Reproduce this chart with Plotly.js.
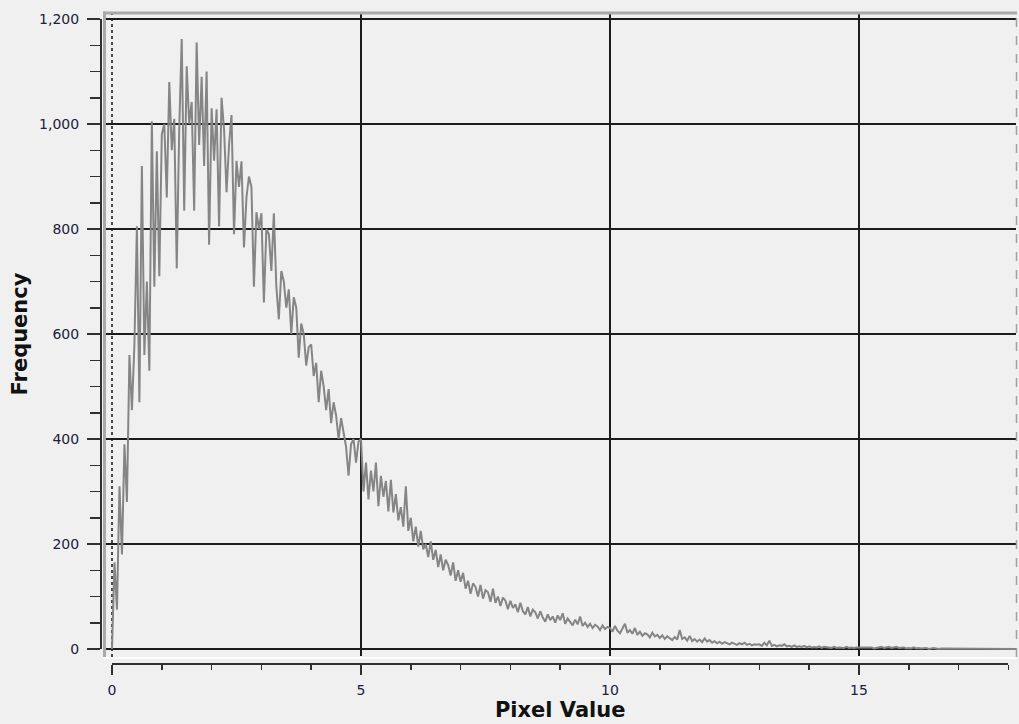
<!DOCTYPE html>
<html>
<head>
<meta charset="utf-8">
<script src="https://cdn.plot.ly/plotly-3.0.1.min.js"></script>
<style>
html,body{margin:0;padding:0;background:#f0f0f0;}
#chart{width:1019px;height:724px;}
</style>
</head>
<body>
<div id="chart"></div>
<script>
// ---- data ----
const binWidth = 0.05;               // pixel-value bin width
const frequency = [
  // 0.00 - 0.95
  0,165,75,310,180,390,280,560,455,580,805,470,920,560,700,530,1005,690,948,710,
  // 1.00 - 1.95
  980,1000,860,1080,950,1010,725,990,1162,835,1110,1000,1042,835,1155,960,1090,920,1100,770,
  // 2.00 - 2.95
  1030,930,1028,805,1050,990,870,960,1017,790,930,880,929,765,860,900,880,690,832,800,
  // 3.00 - 3.95
  830,660,800,790,720,830,690,628,720,700,650,685,600,670,650,555,620,600,540,575,
  // 4.00 - 4.95
  580,520,545,470,530,500,455,495,430,470,445,400,440,410,385,330,390,400,355,395,
  // 5.00 - 5.95
  400,300,355,285,340,300,355,272,330,290,320,262,322,260,295,245,270,233,310,225,
  // 6.00 - 6.95
  250,205,233,195,225,190,200,175,205,170,189,156,180,150,170,160,140,165,130,150,
  // 7.00 - 7.95
  128,145,115,130,105,125,118,100,122,96,112,108,90,115,88,100,82,98,92,76,
  // 8.00 - 8.95
  92,78,85,70,88,72,66,80,62,75,70,58,72,60,52,66,55,62,50,64,
  // 9.00 - 9.95
  55,68,48,58,52,45,56,47,62,44,50,42,48,40,46,43,36,45,38,42,
  // 10.00 - 10.95
  40,33,44,35,30,38,48,31,36,29,40,27,33,25,30,28,22,31,24,27,
  // 11.00 - 11.95
  21,26,19,24,20,17,23,18,36,19,22,16,25,15,19,14,18,13,20,14,
  // 12.00 - 12.95
  17,12,15,11,14,10,13,11,9,12,10,8,11,9,12,8,10,7,9,8,
  // 13.00 - 13.95
  9,6,12,7,16,6,8,5,7,6,9,5,6,4,7,4,5,4,6,3,
  // 14.00 - 14.95
  5,3,4,3,5,2,4,3,3,2,4,2,3,3,2,4,2,3,2,3,
  // 15.00 - 15.95
  3,2,3,2,2,3,1,2,3,4,2,3,4,2,3,4,2,2,3,1,
  // 16.00 - 16.95
  2,1,3,1,2,1,1,2,0,1,2,1,0,1,1,0,1,1,0,1,
  // 17.00 - 17.95
  0,1,1,0,1,0,0,1,1,0,0,1,0,1,0,0,1,0,0,0,
  // 18.00 - 18.15
  0,0,0,0
];
const pixelValue = frequency.map((_, i) => +(i * binWidth).toFixed(2));

const xTickVals = [0, 5, 10, 15];
const xTickText = ['0', '5', '10', '15'];
const xMinorTicks = [1, 2, 3, 4, 6, 7, 8, 9, 11, 12, 13, 14, 16, 17, 18];
const xAxisMax = 18;
const yTickVals = [0, 200, 400, 600, 800, 1000, 1200];
const yTickText = ['0', '200', '400', '600', '800', '1,000', '1,200'];
const yMinorTicks = [50,100,150,250,300,350,450,500,550,650,700,750,850,900,950,1050,1100,1150];
const yAxisMax = 1200;
const xGridVals = xTickVals.filter(v => v !== 0);
const xZeroLine = [0];

// ---- layout geometry (pixels) ----
const W = 1019, H = 724;
const px = v => v / W;
const py = v => (H - v) / H;
const x0px = 112, xUnit = 49.8;       // pixel of x=0 and px per unit
const y0px = 649, yUnit = 105 / 200;  // pixel of y=0 and px per unit
const plotL = 105, plotR = 1016, plotT = 13, plotB = 656;

const tickFont = {family: 'DejaVu Sans, Verdana, sans-serif', size: 14, color: '#20203a'};
const titleFont = {family: 'DejaVu Sans, Verdana, sans-serif', size: 21, color: '#111111', weight: 'bold'};
const gridColor = '#1c1c1c';
const axisColor = '#303030';

const traces = [
  {
    x: pixelValue, y: frequency, type: 'scatter', mode: 'lines',
    line: {color: '#858585', width: 2},
    xaxis: 'x', yaxis: 'y', hoverinfo: 'skip', showlegend: false
  },
  { x: [], y: [], type: 'scatter', mode: 'lines', xaxis: 'x2', yaxis: 'y2', showlegend: false, hoverinfo: 'skip' }
];

const layout = {
  width: W, height: H,
  margin: {l: 0, r: 0, t: 0, b: 0},
  paper_bgcolor: '#f0f0f0',
  plot_bgcolor: 'rgba(0,0,0,0)',
  showlegend: false,
  xaxis: {
    domain: [px(plotL), px(plotR)],
    range: [(plotL - x0px) / xUnit, (plotR - x0px) / xUnit],
    anchor: 'y',
    tickmode: 'array', tickvals: xGridVals,
    showticklabels: false, ticks: '',
    showgrid: true, gridcolor: gridColor, gridwidth: 2,
    zeroline: false, showline: false, fixedrange: true
  },
  yaxis: {
    domain: [py(plotB), py(plotT)],
    range: [(y0px - plotB) / yUnit, (y0px - plotT) / yUnit],
    anchor: 'x',
    tickmode: 'array', tickvals: yTickVals,
    showticklabels: false, ticks: '',
    showgrid: true, gridcolor: gridColor, gridwidth: 2,
    zeroline: false, showline: false, fixedrange: true
  },
  xaxis2: {
    domain: [px(x0px), px(x0px + xAxisMax * xUnit)],
    range: [0, xAxisMax],
    anchor: 'free', position: py(663), side: 'bottom',
    tickmode: 'array', tickvals: xTickVals, ticktext: xTickText,
    ticks: 'outside', ticklen: 10, tickwidth: 1.5, tickcolor: axisColor,
    minor: {tickmode: 'array', tickvals: xMinorTicks, ticks: 'outside', ticklen: 5, tickwidth: 1.5, tickcolor: axisColor, showgrid: false},
    showline: true, linecolor: axisColor, linewidth: 1.5,
    showgrid: false, zeroline: false,
    tickfont: tickFont, ticklabelstandoff: 4,
    title: {text: 'Pixel Value', font: titleFont, standoff: 2},
    fixedrange: true
  },
  yaxis2: {
    domain: [py(y0px), py(y0px - yAxisMax * yUnit)],
    range: [0, yAxisMax],
    anchor: 'free', position: px(100), side: 'left',
    tickmode: 'array', tickvals: yTickVals, ticktext: yTickText,
    ticks: 'outside', ticklen: 13, tickwidth: 1.5, tickcolor: axisColor,
    minor: {tickmode: 'array', tickvals: yMinorTicks, ticks: 'outside', ticklen: 10, tickwidth: 1.5, tickcolor: axisColor, showgrid: false},
    showline: true, linecolor: axisColor, linewidth: 1.5,
    showgrid: false, zeroline: false,
    tickfont: tickFont, ticklabelstandoff: 5,
    title: {text: 'Frequency', font: titleFont, standoff: 4},
    fixedrange: true
  },
  shapes: [
    // dotted line at x = 0
    {type: 'line', xref: 'x', yref: 'paper', x0: xZeroLine[0], x1: xZeroLine[0], y0: py(plotB + 1), y1: py(plotT + 1),
     line: {color: '#111111', width: 1.5, dash: 'dot'}, layer: 'between'},
    // left border (grey, thick)
    {type: 'line', xref: 'paper', yref: 'paper', x0: px(104.5), x1: px(104.5), y0: py(plotB + 3), y1: py(11.5),
     line: {color: '#a9a9a9', width: 3}, layer: 'above'},
    // top border
    {type: 'line', xref: 'paper', yref: 'paper', x0: px(103), x1: px(plotR + 1), y0: py(13), y1: py(13),
     line: {color: '#a9a9a9', width: 3}, layer: 'above'},
    // right dashed border
    {type: 'line', xref: 'paper', yref: 'paper', x0: px(plotR + 0.5), x1: px(plotR + 0.5), y0: py(plotB + 1), y1: py(14),
     line: {color: '#a0a0a0', width: 1.5, dash: 'dash'}, layer: 'above'},
    // bottom white edge
    {type: 'line', xref: 'paper', yref: 'paper', x0: px(103), x1: px(plotR + 1), y0: py(658), y1: py(658),
     line: {color: '#ffffff', width: 2}, layer: 'above'}
  ]
};

Plotly.newPlot('chart', traces, layout, {displayModeBar: false, staticPlot: true});
</script>
</body>
</html>
